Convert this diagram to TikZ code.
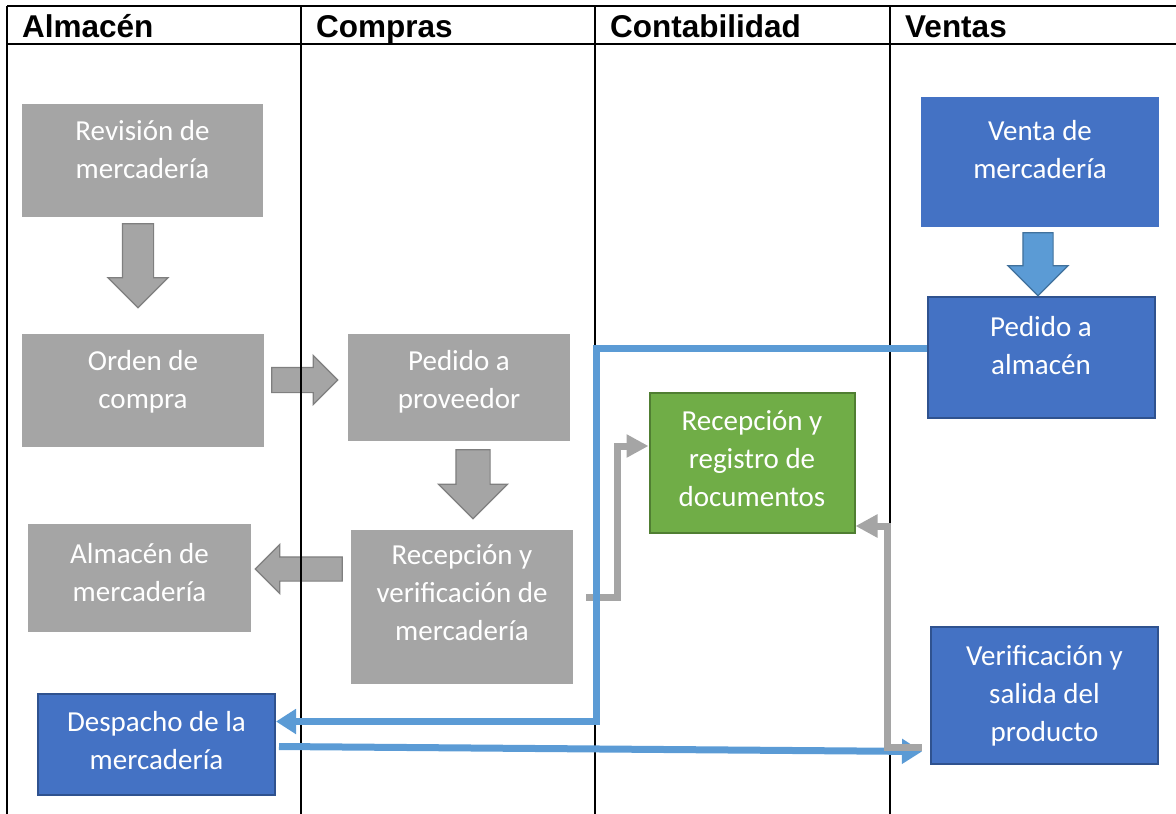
\documentclass[tikz,border=0pt]{standalone}
\usepackage{fontspec}
\setmainfont{Carlito}
\newfontfamily\cabecera{Liberation Sans}
\usepackage{tikz}
\usetikzlibrary{positioning}
\usetikzlibrary{calc}
\usetikzlibrary{arrows.meta}
\usetikzlibrary{shapes.arrows}

\definecolor{grisbox}{HTML}{A5A5A5}
\definecolor{grisborde}{HTML}{7F7F7F}
\definecolor{azulbox}{HTML}{4472C4}
\definecolor{azulborde}{HTML}{2F528F}
\definecolor{azullinea}{HTML}{5B9BD5}
\definecolor{azulflecha}{HTML}{41719C}
\definecolor{verdebox}{HTML}{70AD47}
\definecolor{verdeborde}{HTML}{507E32}

\tikzset{
  carril/.style={anchor=base west, inner sep=0pt, font=\cabecera\bfseries\fontsize{31.5}{36}\selectfont},
  proc/.style={rectangle, align=center, text=white, inner sep=0pt, text depth=22pt,
    font=\fontsize{29}{38}\selectfont},
  gris/.style={proc, fill=grisbox},
  azul/.style={proc, fill=azulbox, draw=azulborde, line width=2pt},
  verde/.style={proc, fill=verdebox, draw=verdeborde, line width=2pt},
  flecha/.style={single arrow, single arrow tip angle=90, inner xsep=0pt, anchor=tail,
    line width=1.2pt, fill=grisbox, draw=grisborde},
  conngris/.style={line width=7pt, draw=grisbox, -{Triangle[length=22pt,width=22pt]}},
  connazul/.style={line width=7pt, draw=azullinea, -{Triangle[length=20pt,width=24pt]}},
}

\begin{document}
\begin{tikzpicture}[x=1pt, y=-1pt]
  \useasboundingbox (0,0) rectangle (1176,814);

  % Lanes
  \node[carril] (hAlm) at (22,37)  {Almacén};
  \node[carril] (hCom) at (316,37) {Compras};
  \node[carril] (hCon) at (610,37) {Contabilidad};
  \node[carril] (hVen) at (905,37) {Ventas};

  % Define nodes
  \node[gris, minimum width=241pt, minimum height=113pt] (rev) at (142.5,160.5) {Revisión de\\mercadería};
  \node[gris, minimum width=242pt, minimum height=113pt] (orden) at (143,390.5) {Orden de\\compra};
  \node[gris, minimum width=222pt, minimum height=107pt, text depth=16pt] (pedprov) at (459,387.5) {Pedido a\\proveedor};
  \node[gris, minimum width=223pt, minimum height=108pt, text depth=11pt] (almmerc) at (139.5,578) {Almacén de\\mercadería};
  \node[gris, minimum width=222pt, minimum height=154pt, text depth=28pt] (recver) at (462,607) {Recepción y\\verificación de\\mercadería};
  \node[azul, minimum width=237pt, minimum height=101pt, text depth=8pt] (despacho) at (156.5,744.5) {Despacho de la\\mercadería};
  \node[verde, minimum width=205pt, minimum height=140pt, text depth=9pt] (recreg) at (752,463) {Recepción y\\registro de\\documentos};
  \node[proc, fill=azulbox, minimum width=238pt, minimum height=130pt, text depth=25pt] (venta) at (1040,162) {Venta de\\mercadería};
  \node[azul, minimum width=227pt, minimum height=121pt, text depth=25pt] (pedalm) at (1041,357.5) {Pedido a\\almacén};
  \node[azul, minimum width=227pt, minimum height=137pt, text depth=5pt] (verif) at (1044.5,695.5) {Verificación y\\salida del\\producto};

  % Block arrows
  \node[flecha, rotate=-90, minimum height=84pt, inner ysep=15pt, single arrow head extend=14.5pt] (f1) at ($(rev.south)+(-4.5,6)$) {};
  \node[flecha, minimum height=66pt, inner ysep=12pt, single arrow head extend=12pt] (f2) at ($(orden.east)+(7,-10.5)$) {};
  \node[flecha, rotate=-90, minimum height=69pt, inner ysep=16.5pt, single arrow head extend=17.5pt] (f3) at ($(pedprov.south)+(14,8)$) {};
  \node[flecha, rotate=180, minimum height=87pt, inner ysep=11.5pt, single arrow head extend=12.5pt] (f4) at ($(recver.west)+(-8,-38)$) {};
  \node[flecha, rotate=-90, fill=azullinea, draw=azulflecha, minimum height=63pt, inner ysep=14.5pt, single arrow head extend=15pt] (f5) at ($(venta.south)+(-2,5)$) {};

  % Table
  \draw[line width=2pt] (7,6) -- (1176,6);
  \draw[line width=2pt] (7,44) -- (1176,44);
  \foreach \x in {7,301,595,890}
    \draw[line width=2pt] (\x,6) -- (\x,814);

  % Connect the nodes
  \draw[conngris] ($(recver.east)+(13,-10)$) -- ++(31,0) |- ($(recreg.west)+(0,-17)$);
  \draw[connazul] ($(pedalm.west)+(0,-9)$) -- ++(-330,0) |- ($(despacho.east)+(0,-23)$);
  \draw[connazul] ($(despacho.east)+(3,2)$) -- ($(verif.west)+(-8,56)$);
  \draw[conngris] ($(verif.west)+(-8,52)$) -- ++(-35,0) |- ($(recreg.east)+(0,63)$);

\end{tikzpicture}
\end{document}
